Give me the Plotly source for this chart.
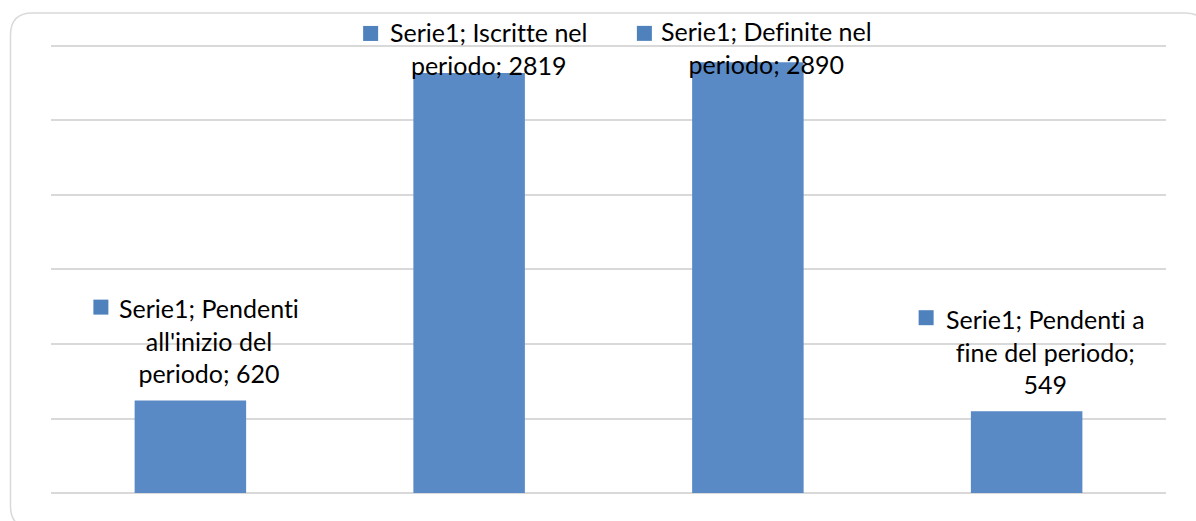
import plotly.graph_objects as go

# ---- data ----
categories = ["Pendenti all'inizio del periodo", "Iscritte nel periodo",
              "Definite nel periodo", "Pendenti a fine del periodo"]
values = [620, 2819, 2890, 549]
series_name = "Serie1"
label_lines = [
    ["Serie1; Pendenti", "all'inizio del", "periodo; 620"],
    ["Serie1; Iscritte nel", "periodo; 2819"],
    ["Serie1; Definite nel", "periodo; 2890"],
    ["Serie1; Pendenti a", "fine del periodo;", "549"],
]
y_ticks = [0, 500, 1000, 1500, 2000, 2500, 3000]
y_range = [0, 3020]

# ---- style / layout ----
W, H = 1196, 521
L, R, T, B = 51, 30, 43, 28
bar_color = "#5A8AC6"
key_color = "#4F81BD"
grid_color = "#D9D9D9"
font_family = "Lato, 'Open Sans', sans-serif"
font_size = 25
text_shift_x = 19                          # px: label text offset from bar centre
text_top_above_bar = [110, 58, 48, 109]    # px above bar top for label box top
key_left_from_center = [-97, -106, -111, -108]  # px
key_center_above_bar = [93.5, 39.5, 29, 93.5]   # px
key_size = 15

fig = go.Figure()
fig.add_trace(go.Bar(x=categories, y=values, marker=dict(color=bar_color, line=dict(width=0)),
                     name=series_name, showlegend=False, hoverinfo="skip"))

pw, ph = W - L - R, H - T - B

def val_to_paper(v):
    return (v - y_range[0]) / (y_range[1] - y_range[0])

annotations = []
shapes = []
nolig = "font-variant-ligatures:none;font-feature-settings:'liga' 0"
for i, (cat, val, lines) in enumerate(zip(categories, values, label_lines)):
    annotations.append(dict(
        x=cat, y=val, xref="x", yref="y", xanchor="center", yanchor="top",
        xshift=text_shift_x, yshift=text_top_above_bar[i],
        text="<br>".join(f"<span style=\"{nolig}\">{ln}</span>" for ln in lines),
        showarrow=False, align="center",
        font=dict(family=font_family, size=font_size, color="#000000"),
    ))
    kl = key_left_from_center[i]
    kc = key_center_above_bar[i]
    shapes.append(dict(
        type="rect", xref="x", yref="paper", xsizemode="pixel", ysizemode="pixel",
        xanchor=cat, yanchor=val_to_paper(val),
        x0=kl, x1=kl + key_size, y0=kc - key_size / 2, y1=kc + key_size / 2,
        fillcolor=key_color, line=dict(width=0), layer="above",
    ))

# rounded chart border (pixel coords converted to paper coords)
def px(x):
    return (x - L) / pw
def py(y):
    return (H - B - y) / ph
bx0, by0, bx1, by1, rad = 10.5, 13, 1207, 528, 22
path = (f"M {px(bx0 + rad)} {py(by0)} L {px(bx1 - rad)} {py(by0)} "
        f"Q {px(bx1)} {py(by0)} {px(bx1)} {py(by0 + rad)} "
        f"L {px(bx1)} {py(by1 - rad)} Q {px(bx1)} {py(by1)} {px(bx1 - rad)} {py(by1)} "
        f"L {px(bx0 + rad)} {py(by1)} Q {px(bx0)} {py(by1)} {px(bx0)} {py(by1 - rad)} "
        f"L {px(bx0)} {py(by0 + rad)} Q {px(bx0)} {py(by0)} {px(bx0 + rad)} {py(by0)} Z")
shapes.append(dict(type="path", xref="paper", yref="paper", path=path,
                   line=dict(color=grid_color, width=1.5), fillcolor="rgba(0,0,0,0)", layer="below"))

fig.update_layout(
    width=W, height=H, margin=dict(l=L, r=R, t=T, b=B, pad=0),
    paper_bgcolor="white", plot_bgcolor="white",
    bargap=0.6, showlegend=False,
    annotations=annotations, shapes=shapes,
    xaxis=dict(showticklabels=False, showgrid=False, zeroline=False, showline=False, ticks=""),
    yaxis=dict(range=y_range, tickvals=y_ticks, showticklabels=False, showgrid=True,
               gridcolor=grid_color, gridwidth=1.5, zeroline=True, zerolinecolor=grid_color,
               zerolinewidth=1.5, showline=False, ticks=""),
)

fig.write_html("out.html")
